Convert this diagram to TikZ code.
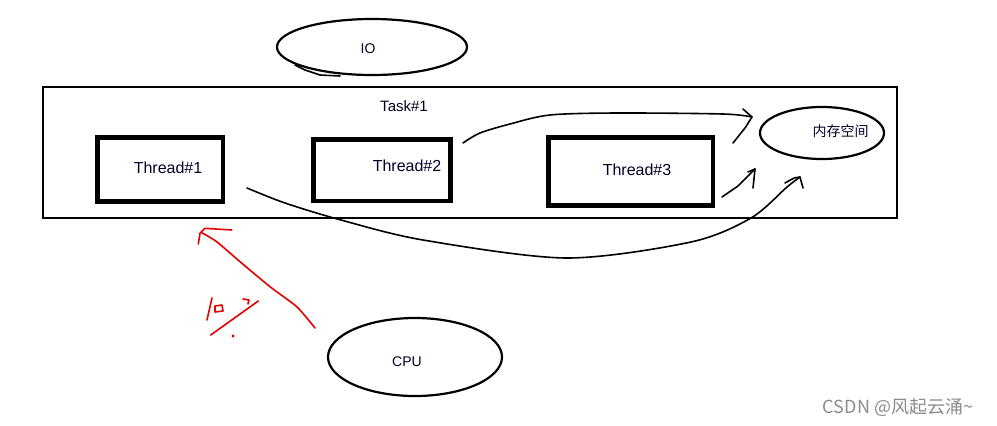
\documentclass[tikz,border=0pt]{standalone}
\usepackage{fontspec}
\setmainfont{Liberation Sans}
\newfontfamily\cjk{Noto Sans CJK SC}
\begin{document}
\begin{tikzpicture}[x=1pt,y=-1pt,
  lbl/.style={inner sep=0pt,font=\fontsize{14}{16}\selectfont,text=black!85!blue},
  big/.style={lbl,font=\fontsize{16}{18}\selectfont},
  thr/.style={draw,line width=4.5pt,inner sep=0pt},
  pen/.style={line width=1.6pt,line cap=round,line join=round},
  redpen/.style={pen,draw=red!90!black}]
\useasboundingbox[fill=white] (0,0) rectangle (997,426);
% containers
\draw[line width=2.8pt] (43,87) rectangle (897,218);
\node[lbl,font=\fontsize{15}{17}\selectfont] (task) at (404,106) {Task\#1};
\draw[thr] (97.5,137.5) rectangle (223,201.5);
\node[big] (t1) at (168,168) {Thread\#1};
\draw[thr] (313.5,139.5) rectangle (450.5,201);
\node[big] (t2) at (407,166) {Thread\#2};
\draw[thr] (548.5,137.5) rectangle (713,205.5);
\node[big] (t3) at (637,170) {Thread\#3};
% ellipses
\draw[line width=2.2pt] (372,47) ellipse [x radius=95, y radius=28];
\node[lbl] (io) at (368,49) {IO};
\draw[pen] (295,65) -- (305,70) -- (320,75) -- (340,76);
\draw[line width=2.2pt] (822,133) ellipse [x radius=62, y radius=26];
\node[lbl,font=\cjk\fontsize{14}{16}\selectfont] (mem) at (840.5,131) {内存空间};
\draw[line width=2.2pt] (415,357) ellipse [x radius=87, y radius=39];
\node[lbl] (cpu) at (407,362) {CPU};
% black hand arrows
\coordinate (a1s) at (463,143);
\coordinate (a1e) at (752,117);
\draw[pen] plot[smooth,tension=0.5] coordinates {(a1s) (480,133) (510,124) (550,115) (617,113) (723,114) (a1e)};
\draw[pen] (743,109) -- (a1e) -- (745,128) -- (733,143);
\coordinate (a2s) at (722,197);
\coordinate (a2e) at (755,169);
\draw[pen] (a2s) -- (738,186) -- (748,176) -- (a2e);
\draw[pen] (748,172) -- (a2e) -- (753,188);
\coordinate (a3s) at (247,188);
\coordinate (a3e) at (800,177);
\draw[pen] plot[smooth,tension=0.5] coordinates {(a3s) (285,203) (341,220) (423,240) (566,258) (691,242) (751,218) (787,187) (a3e)};
\draw[pen] (785,183) -- (794,178) -- (a3e) -- (803,188);
% red hand arrow and 10%
\coordinate (rs) at (315,328);
\coordinate (re) at (201.7,232.7);
\draw[redpen] plot[smooth,tension=0.4] coordinates {(rs) (296.7,306.7) (270,286.7) (240,261.7) (216.7,241.7) (re)};
\draw[redpen] (198.3,244) -- (200,233.3) -- (205,228.3) -- (231.7,230);
\draw[redpen] (212,298) -- (207,320);
\draw[redpen] (215,306) -- (222,305) -- (223,311) -- (215,312) -- cycle;
\draw[redpen] (258.3,301) -- (210.7,335);
\draw[redpen] (243,299) -- (249,300) -- (248,304);
\fill[red!90!black] (233,336) circle (1.6);
% watermark
\node[inner sep=0pt,text=black!45,font=\cjk\fontsize{18}{20}\selectfont] (wm) at (898,408) {CSDN @风起云涌\textasciitilde};
\end{tikzpicture}
\end{document}
